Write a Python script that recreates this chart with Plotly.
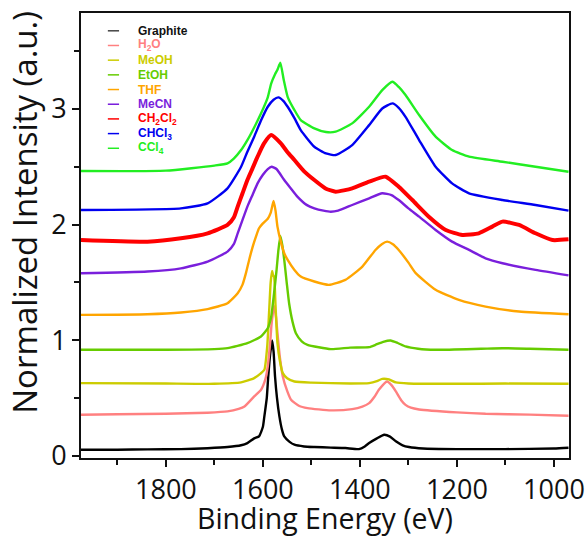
import plotly.graph_objects as go

# Raman spectra of graphite exfoliated in different solvents (normalized, offset)
names = ["Graphite", "H2O", "MeOH", "EtOH", "THF", "MeCN", "CH2Cl2", "CHCl3", "CCl4"]
labels = ["Graphite", "H<sub>2</sub>O", "MeOH", "EtOH", "THF", "MeCN",
          "CH<sub>2</sub>Cl<sub>2</sub>", "CHCl<sub>3</sub>", "CCl<sub>4</sub>"]
colors = ["#000000", "#FF8080", "#CCCC00", "#66CC00", "#FFA500", "#7A1FDC",
          "#FF0000", "#0000F0", "#22EE22"]

graphite_x = [1975, 1900, 1838, 1769, 1714, 1673, 1645, 1632, 1618, 1608, 1600, 1597, 1592,
              1589, 1585, 1581, 1578, 1575, 1571, 1566, 1561, 1556, 1545, 1535, 1515, 1494,
              1460, 1430, 1402, 1390, 1381, 1365, 1350, 1338, 1326, 1312, 1299, 1270, 1200,
              1100, 1000, 970]
graphite_y = [0.052, 0.052, 0.055, 0.057, 0.065, 0.075, 0.09, 0.109, 0.15, 0.167, 0.25, 0.34,
              0.5, 0.685, 0.88, 0.997, 0.9, 0.685, 0.5, 0.34, 0.23, 0.167, 0.12, 0.095, 0.08,
              0.075, 0.07, 0.066, 0.057, 0.08, 0.109, 0.15, 0.181, 0.165, 0.124, 0.09, 0.075,
              0.062, 0.057, 0.057, 0.062, 0.069]

h2o_x = [1975, 1900, 1800, 1714, 1673, 1650, 1638, 1618, 1604, 1595, 1590, 1585, 1582, 1577,
         1573, 1570, 1565, 1559, 1550, 1542, 1525, 1508, 1460, 1416, 1395, 1381, 1370, 1361,
         1344, 1335, 1326, 1315, 1306, 1295, 1278, 1200, 1141, 1050, 970]
h2o_y = [0.354, 0.358, 0.363, 0.372, 0.383, 0.405, 0.426, 0.513, 0.57, 0.66, 0.772, 0.98,
         1.146, 1.296, 1.2, 1.06, 0.85, 0.685, 0.56, 0.484, 0.43, 0.412, 0.392, 0.403, 0.425,
         0.455, 0.51, 0.57, 0.642, 0.61, 0.556, 0.48, 0.44, 0.415, 0.4, 0.375, 0.363, 0.355,
         0.346]

meoh_x = [1975, 1800, 1700, 1645, 1618, 1605, 1597, 1591, 1587, 1584, 1581, 1579, 1577, 1574,
          1570, 1565, 1559, 1550, 1535, 1500, 1420, 1381, 1365, 1354, 1340, 1326, 1300, 1200,
          1100, 970]
meoh_y = [0.628, 0.624, 0.622, 0.634, 0.671, 0.71, 0.743, 0.95, 1.262, 1.5, 1.599, 1.56, 1.55,
          1.3, 0.974, 0.82, 0.714, 0.67, 0.642, 0.632, 0.625, 0.628, 0.645, 0.665, 0.66, 0.634,
          0.625, 0.622, 0.624, 0.622]

etoh_x = [1975, 1800, 1700, 1673, 1632, 1604, 1590, 1583, 1577, 1572, 1568, 1564, 1560, 1556,
          1551, 1546, 1539, 1532, 1520, 1508, 1460, 1420, 1381, 1368, 1352, 1337, 1322, 1306,
          1280, 1244, 1150, 1106, 1050, 970]
etoh_y = [0.916, 0.916, 0.922, 0.93, 0.974, 1.031, 1.103, 1.2, 1.406, 1.6, 1.78, 1.901, 1.82,
          1.694, 1.5, 1.319, 1.16, 1.06, 0.99, 0.959, 0.922, 0.935, 0.939, 0.959, 0.985, 0.997,
          0.975, 0.945, 0.925, 0.916, 0.925, 0.93, 0.925, 0.916]

thf_x = [1975, 1838, 1769, 1714, 1673, 1652, 1642, 1635, 1628, 1621, 1614, 1608, 1600, 1590,
         1584, 1578, 1574, 1570, 1563, 1556, 1549, 1535, 1522, 1494, 1464, 1430, 1395, 1368,
         1355, 1344, 1332, 1320, 1300, 1285, 1244, 1196, 1141, 1072, 970]
thf_y = [1.218, 1.224, 1.239, 1.268, 1.319, 1.406, 1.48, 1.579, 1.7, 1.809, 1.9, 1.968, 2.01,
         2.05, 2.1, 2.204, 2.12, 1.982, 1.85, 1.751, 1.694, 1.607, 1.55, 1.507, 1.478, 1.521,
         1.636, 1.78, 1.83, 1.852, 1.83, 1.78, 1.67, 1.579, 1.435, 1.348, 1.29, 1.247, 1.224]

mecn_x = [1975, 1838, 1769, 1714, 1673, 1660, 1652, 1642, 1632, 1621, 1611, 1600, 1590, 1582,
          1572, 1556, 1542, 1529, 1510, 1494, 1475, 1460, 1445, 1416, 1381, 1354, 1335, 1320,
          1300, 1278, 1244, 1210, 1175, 1141, 1106, 1038, 970]
mecn_y = [1.578, 1.593, 1.621, 1.679, 1.766, 1.83, 1.924, 2.04, 2.155, 2.26, 2.356, 2.43, 2.48,
          2.5, 2.48, 2.385, 2.31, 2.241, 2.17, 2.14, 2.12, 2.111, 2.12, 2.169, 2.227, 2.27,
          2.255, 2.212, 2.14, 2.068, 1.953, 1.852, 1.78, 1.708, 1.665, 1.607, 1.56]

ch2cl2_x = [1975, 1838, 1769, 1714, 1673, 1660, 1652, 1642, 1632, 1621, 1611, 1598, 1583, 1563,
            1550, 1535, 1515, 1494, 1470, 1450, 1416, 1381, 1347, 1320, 1292, 1258, 1223, 1189,
            1155, 1127, 1106, 1072, 1038, 1003, 970]
ch2cl2_y = [1.866, 1.852, 1.881, 1.924, 1.996, 2.06, 2.155, 2.27, 2.385, 2.49, 2.587, 2.7,
            2.774, 2.702, 2.63, 2.558, 2.46, 2.385, 2.31, 2.284, 2.313, 2.371, 2.414, 2.327,
            2.212, 2.068, 1.953, 1.91, 1.924, 1.982, 2.025, 1.996, 1.924, 1.866, 1.872]

chcl3_x = [1975, 1769, 1714, 1673, 1645, 1632, 1618, 1604, 1590, 1578, 1568, 1558, 1549, 1535,
           1522, 1494, 1470, 1450, 1416, 1381, 1354, 1333, 1320, 1306, 1278, 1244, 1210, 1175,
           1106, 1038, 970]
chcl3_y = [2.126, 2.14, 2.183, 2.313, 2.5, 2.63, 2.76, 2.9, 3.019, 3.08, 3.1, 3.07, 3.019, 2.92,
           2.817, 2.673, 2.615, 2.601, 2.687, 2.86, 3.004, 3.048, 3.01, 2.932, 2.731, 2.5,
           2.356, 2.27, 2.212, 2.169, 2.12]

ccl4_x = [1975, 1800, 1700, 1673, 1660, 1645, 1632, 1618, 1604, 1590, 1583, 1575, 1570, 1564,
          1557, 1549, 1535, 1522, 1494, 1470, 1450, 1416, 1381, 1354, 1333, 1320, 1306, 1278,
          1244, 1210, 1175, 1106, 1038, 970]
ccl4_y = [2.463, 2.466, 2.51, 2.529, 2.57, 2.644, 2.73, 2.84, 2.96, 3.1, 3.22, 3.3, 3.34, 3.399,
          3.25, 3.105, 2.99, 2.904, 2.832, 2.8, 2.803, 2.875, 3.019, 3.163, 3.235, 3.19, 3.12,
          2.947, 2.76, 2.644, 2.587, 2.543, 2.5, 2.457]

series_x = [graphite_x, h2o_x, meoh_x, etoh_x, thf_x, mecn_x, ch2cl2_x, chcl3_x, ccl4_x]
series_y = [graphite_y, h2o_y, meoh_y, etoh_y, thf_y, mecn_y, ch2cl2_y, chcl3_y, ccl4_y]

x_ticks = [1800, 1600, 1400, 1200, 1000]
y_ticks = [0, 1, 2, 3]

fig = go.Figure()
for name, xs, ys, c in zip(names, series_x, series_y, colors):
    width = 4.0 if name == "CH2Cl2" else 2.4
    fig.add_trace(go.Scatter(
        x=xs, y=ys, mode="lines", name=name, showlegend=False,
        line=dict(color=c, width=width, shape="spline", smoothing=0.5),
    ))

# hand-built legend: short line sample + bold coloured label
leg_top = 0.96
leg_step = 0.033
for i, (lab, c) in enumerate(zip(labels, colors)):
    yy = leg_top - i * leg_step
    sample = "#444444" if i == 0 else c
    fig.add_shape(type="line", xref="paper", yref="paper",
                  x0=0.055, x1=0.078, y0=yy, y1=yy,
                  line=dict(color=sample, width=1.5))
    fig.add_annotation(xref="paper", yref="paper", x=0.113, y=yy,
                       xanchor="left", yanchor="middle", showarrow=False,
                       text="<b>" + lab + "</b>",
                       font=dict(family="Liberation Sans, Arial", size=12,
                                 color="#111111" if i == 0 else c))

axis_font = "Open Sans, Segoe UI, sans-serif"

# y-axis title placed as a rotated label to the left of the tick labels
fig.add_annotation(xref="paper", yref="paper", x=-0.115, y=0.553,
                   xanchor="center", yanchor="middle", showarrow=False,
                   textangle=-90, text="Normalized Intensity (a.u.)",
                   font=dict(family=axis_font, size=33, color="#111111"))

fig.update_layout(
    width=586, height=537, autosize=False,
    margin=dict(l=81, r=17, t=13, b=79),
    plot_bgcolor="white", paper_bgcolor="white",
    font=dict(family=axis_font, color="#111111"),
)
fig.update_xaxes(
    range=[1975, 969], tickvals=x_ticks, ticktext=[str(v) for v in x_ticks],
    showgrid=False, zeroline=False, automargin=False,
    showline=True, linecolor="#111111", linewidth=2, mirror=True,
    ticks="outside", ticklen=7, tickwidth=2, tickcolor="#111111",
    minor=dict(dtick=100, tick0=1000, ticks="outside", ticklen=5, tickwidth=2,
               tickcolor="#111111", showgrid=False),
    tickfont=dict(size=27, family=axis_font),
    title=dict(text="Binding Energy (eV)", font=dict(size=28.5, family=axis_font), standoff=5),
)
fig.update_yaxes(
    range=[-0.02, 3.83], tickvals=y_ticks, ticktext=[str(v) for v in y_ticks],
    showgrid=False, zeroline=False, automargin=False,
    showline=True, linecolor="#111111", linewidth=2, mirror=True,
    ticks="outside", ticklen=7, tickwidth=2, tickcolor="#111111",
    minor=dict(dtick=0.5, tick0=0, ticks="outside", ticklen=5, tickwidth=2,
               tickcolor="#111111", showgrid=False),
    tickfont=dict(size=27, family=axis_font),
)

fig.write_html("out.html")
